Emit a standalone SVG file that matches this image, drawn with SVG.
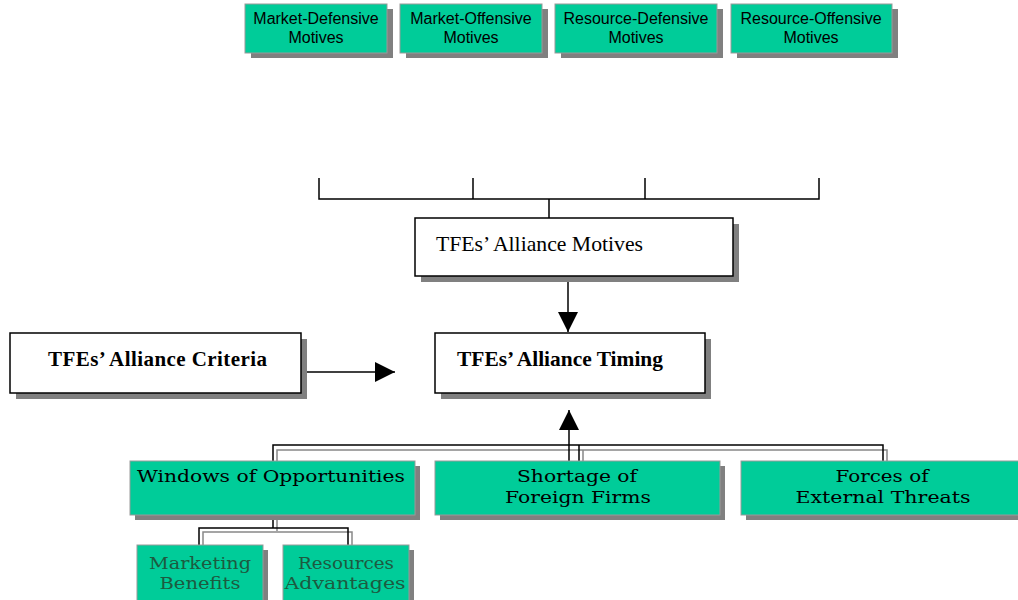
<svg xmlns="http://www.w3.org/2000/svg" width="1018" height="600" viewBox="0 0 1018 600">
<defs>
<style>
.sh{fill:#808080}
.g{fill:#00cc99;stroke:#999;stroke-width:1}
.w{fill:#fff;stroke:#000;stroke-width:1.5}
.a{font-family:"Liberation Sans",Arial,sans-serif;font-size:16px;fill:#000;text-anchor:middle}
.t{font-family:"Liberation Serif","Times New Roman",serif;font-size:21px;fill:#000}
.tb{font-family:"Liberation Serif","Times New Roman",serif;font-size:21px;font-weight:bold;fill:#000}
.b{font-family:"DejaVu Serif",serif;font-size:16px;fill:#000;text-anchor:middle}
.s{font-family:"DejaVu Serif",serif;font-size:17px;fill:#1d5a40;text-anchor:middle;font-weight:300}
.ln{stroke:#000;stroke-width:1.5;fill:none}
.lg{stroke:#888;stroke-width:1.5;fill:none}
</style>
<marker id="ah" viewBox="0 0 10 10" refX="10" refY="5" markerWidth="20" markerHeight="20" markerUnits="userSpaceOnUse" orient="auto"><path d="M0,0 L10,5 L0,10 Z" fill="#000"/></marker>
</defs>
<g id="connectors">
<path class="ln" d="M319,178 V199 H819 V178 M473,178 V199 M645,178 V199 M549,199 V218"/>
<line class="ln" x1="568" y1="276" x2="568" y2="332" marker-end="url(#ah)"/>
<line class="ln" x1="299" y1="372" x2="395" y2="372" marker-end="url(#ah)"/>
<path class="lg" d="M277,461 V450 H887 V461 M583,450 V461"/>
<path class="ln" d="M273,461 V445 H883 V461 M579,445 V461"/>
<line class="ln" x1="569" y1="468" x2="569" y2="410" marker-end="url(#ah)"/>
<path class="lg" d="M277,515 V531 M203,545 V532 H352 V545"/>
<path class="ln" d="M273,515 V528 M199,545 V528 H348 V545"/>
</g>
<g id="n-md"><rect class="sh" x="251" y="9" width="142" height="49"/><rect class="g" x="245" y="4" width="142" height="49"/><text class="a" x="316" y="24">Market-Defensive</text><text class="a" x="316" y="43">Motives</text></g>
<g id="n-mo"><rect class="sh" x="406" y="9" width="142" height="49"/><rect class="g" x="400" y="4" width="142" height="49"/><text class="a" x="471" y="24">Market-Offensive</text><text class="a" x="471" y="43">Motives</text></g>
<g id="n-rd"><rect class="sh" x="561" y="9" width="162" height="49"/><rect class="g" x="555" y="4" width="162" height="49"/><text class="a" x="636" y="24">Resource-Defensive</text><text class="a" x="636" y="43">Motives</text></g>
<g id="n-ro"><rect class="sh" x="737" y="9" width="161" height="49"/><rect class="g" x="731" y="4" width="161" height="49"/><text class="a" x="811" y="24">Resource-Offensive</text><text class="a" x="811" y="43">Motives</text></g>
<g id="n-motives"><rect class="sh" x="421" y="224" width="318" height="58"/><rect class="w" x="415" y="218" width="318" height="58"/><text class="t" x="436" y="251" textLength="207" lengthAdjust="spacingAndGlyphs">TFEs’ Alliance Motives</text></g>
<g id="n-criteria"><rect class="sh" x="16" y="339" width="291" height="60"/><rect class="w" x="10" y="333" width="291" height="60"/><text class="tb" x="48" y="366" textLength="219" lengthAdjust="spacing">TFEs’ Alliance Criteria</text></g>
<g id="n-timing"><rect class="sh" x="441" y="339" width="270" height="60"/><rect class="w" x="435" y="333" width="270" height="60"/><text class="tb" x="457" y="366" textLength="206" lengthAdjust="spacingAndGlyphs">TFEs’ Alliance Timing</text></g>
<g id="n-windows"><rect class="sh" x="135" y="466" width="285" height="54"/><rect class="g" x="130" y="461" width="285" height="54"/><text class="b" x="271" y="482" textLength="268" lengthAdjust="spacingAndGlyphs">Windows of Opportunities</text></g>
<g id="n-shortage"><rect class="sh" x="440" y="466" width="285" height="54"/><rect class="g" x="435" y="461" width="285" height="54"/><text class="b" x="577" y="482" textLength="120" lengthAdjust="spacingAndGlyphs">Shortage of</text><text class="b" x="578" y="503" textLength="146" lengthAdjust="spacingAndGlyphs">Foreign Firms</text></g>
<g id="n-forces"><rect class="sh" x="746" y="466" width="285" height="54"/><rect class="g" x="741" y="461" width="285" height="54"/><text class="b" x="882" y="482" textLength="93" lengthAdjust="spacingAndGlyphs">Forces of</text><text class="b" x="883" y="503" textLength="175" lengthAdjust="spacingAndGlyphs">External Threats</text></g>
<g id="n-marketing"><rect class="sh" x="142" y="550" width="126" height="60"/><rect class="g" x="137" y="545" width="126" height="60"/><text class="s" x="200" y="569" textLength="102" lengthAdjust="spacingAndGlyphs">Marketing</text><text class="s" x="200" y="589" textLength="81" lengthAdjust="spacingAndGlyphs">Benefits</text></g>
<g id="n-resources"><rect class="sh" x="288" y="550" width="126" height="60"/><rect class="g" x="283" y="545" width="126" height="60"/><text class="s" x="346" y="569" textLength="96" lengthAdjust="spacingAndGlyphs">Resources</text><text class="s" x="345" y="589" textLength="121" lengthAdjust="spacingAndGlyphs">Advantages</text></g>
</svg>
